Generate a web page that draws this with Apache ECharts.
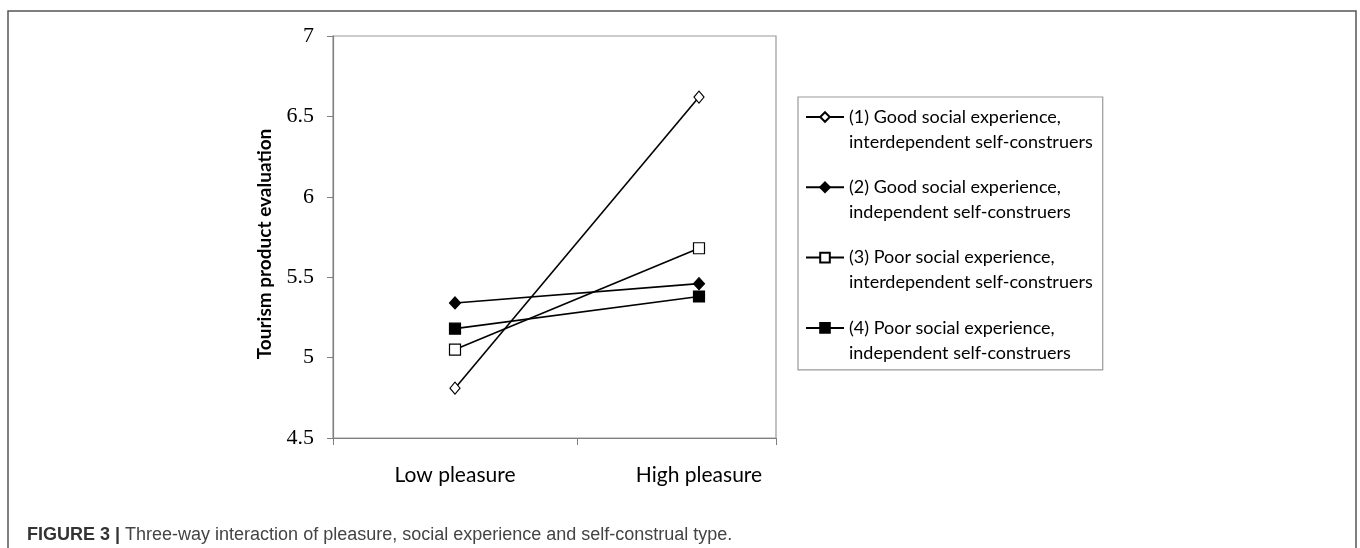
<!DOCTYPE html>
<html>
<head>
<meta charset="utf-8">
<script src="https://cdn.jsdelivr.net/npm/echarts@6/dist/echarts.min.js"></script>
<style>html,body{margin:0;padding:0;background:#fff;}#c{width:1360px;height:548px;}</style>
</head>
<body>
<div id="c"></div>
<script>
// ---- data ----
const categories = ['Low pleasure', 'High pleasure'];
const seriesNames = [
  '(1) Good social experience,\ninterdependent self-construers',
  '(2) Good social experience,\nindependent self-construers',
  '(3) Poor social experience,\ninterdependent self-construers',
  '(4) Poor social experience,\nindependent self-construers'
];
const goodInterdependent = [4.81, 6.62];
const goodIndependent = [5.34, 5.46];
const poorInterdependent = [5.05, 5.68];
const poorIndependent = [5.18, 5.38];
const yMin = 4.5, yMax = 7, yStep = 0.5;
const yAxisTitle = 'Tourism product evaluation';
const captionBold = 'FIGURE 3 |';
const captionText = 'Three-way interaction of pleasure, social experience and self-construal type.';

const symbols = ['diamond', 'diamond', 'rect', 'rect'];
const fills = ['#fff', '#000', '#fff', '#000'];
const sizes = [[10, 12], [11, 12], [11, 11], [11, 11]];
const values = [goodInterdependent, goodIndependent, poorInterdependent, poorIndependent];

const chart = echarts.init(document.getElementById('c'), null, {renderer: 'canvas'});
const option = {
  animation: false,
  backgroundColor: '#fff',
  title: {
    left: 27, top: 526, padding: 0,
    text: '{b|' + captionBold + '} {r|' + captionText + '}',
    textStyle: {
      fontWeight: 'normal',
      rich: {
        b: {fontFamily: 'Liberation Sans', fontWeight: 'bold', fontSize: 18, color: '#333'},
        r: {fontFamily: 'Liberation Sans', fontWeight: 'normal', fontSize: 18, color: '#444'}
      }
    }
  },
  graphic: [{
    type: 'rect', z: -10, silent: true,
    shape: {x: 8, y: 11, width: 1348, height: 600},
    style: {fill: 'none', stroke: '#555', lineWidth: 1.5}
  }],
  legend: {
    orient: 'vertical', left: 798, top: 97,
    selectedMode: false,
    itemWidth: 38, itemHeight: 12, itemGap: -4.7,
    padding: [-17.5, 10, 4.5, 7],
    borderColor: '#999', borderWidth: 1.2,
    formatter: function (name) { return '\u00a0\n' + name; },
    textStyle: {fontFamily: 'Lato', fontSize: 18, lineHeight: 25, color: '#000'},
    data: seriesNames
  },
  grid: [
    {left: 333, top: 36, width: 488, height: 402, show: false},
    {left: 333, top: 36, width: 443, height: 402, show: true, borderColor: '#999', borderWidth: 1.2, backgroundColor: 'transparent'}
  ],
  xAxis: [
    {
      type: 'category', gridIndex: 0, data: categories, boundaryGap: true,
      axisLine: {show: false}, axisTick: {show: false},
      axisLabel: {fontFamily: 'Lato', fontSize: 21, color: '#000', margin: 27}
    },
    {
      type: 'value', gridIndex: 1, min: 0, max: 443 / 244, interval: 1,
      axisLine: {show: true, lineStyle: {color: '#808080', width: 1.2}},
      axisTick: {show: true, length: 7, lineStyle: {color: '#808080'}},
      axisLabel: {show: false}, splitLine: {show: false}
    }
  ],
  yAxis: [
    {
      type: 'value', gridIndex: 0, min: yMin, max: yMax, interval: yStep,
      axisLine: {show: true, lineStyle: {color: '#808080', width: 1.2}},
      axisTick: {show: true, length: 6, lineStyle: {color: '#808080'}},
      splitLine: {show: false},
      axisLabel: {fontFamily: 'Liberation Serif', fontSize: 22, color: '#000', margin: 19},
      name: yAxisTitle, nameLocation: 'middle', nameGap: 59, nameRotate: 90,
      nameTextStyle: {fontFamily: 'Lato', fontWeight: 'bold', fontSize: 19, color: '#000', padding: [0, 14, 0, 0]}
    },
    {
      type: 'value', gridIndex: 1, min: yMin, max: yMax, show: false
    }
  ],
  series: values.map((v, i) => ({
    name: seriesNames[i],
    type: 'line',
    xAxisIndex: 0, yAxisIndex: 0,
    data: v,
    symbol: symbols[i],
    symbolSize: sizes[i],
    z: 5,
    lineStyle: {color: '#000', width: 1.6},
    itemStyle: {color: fills[i], borderColor: '#000', borderWidth: 1.2, opacity: 1},
    color: '#000'
  }))
};
chart.setOption(option);
</script>
</body>
</html>
